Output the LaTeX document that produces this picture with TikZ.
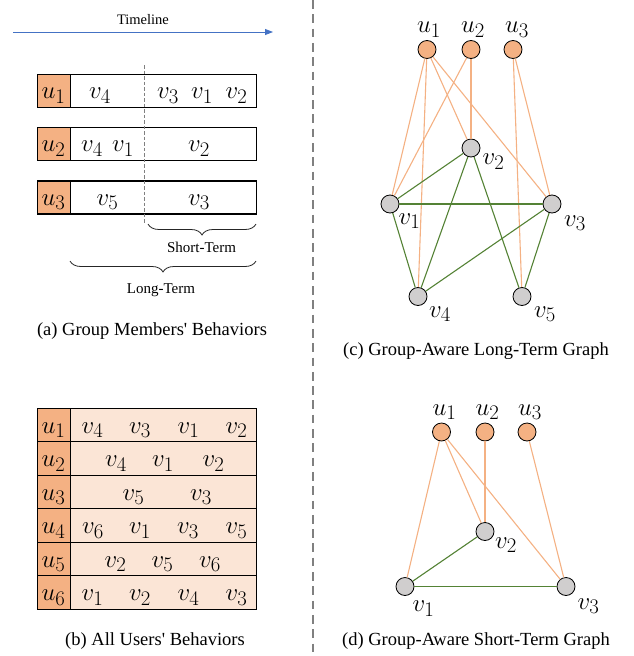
\documentclass[tikz,border=0pt]{standalone}
\usepackage{fontspec}
\setmainfont{Liberation Serif}[Ligatures=TeXOff]
\usetikzlibrary{arrows.meta,decorations.pathreplacing}
\definecolor{uorange}{HTML}{F4B183}
\definecolor{tabfill}{HTML}{FBE5D6}
\definecolor{eorange}{HTML}{F4B183}
\definecolor{egreen}{HTML}{548235}
\definecolor{vgray}{HTML}{D0CECE}
\definecolor{tlblue}{HTML}{4472C4}
\definecolor{sepgray}{HTML}{808080}
\begin{document}
\begin{tikzpicture}[x=1pt,y=-1pt,
  mlbl/.style={font=\fontsize{24.88}{28}\selectfont, inner sep=0pt, anchor=base},
  capt/.style={font=\fontsize{18.5}{22}\selectfont, inner sep=0pt, anchor=base},
  smalltxt/.style={font=\fontsize{15}{18}\selectfont, inner sep=0pt, anchor=base},
  rowbox/.style={draw=black, line width=1.2pt, minimum height=33pt, minimum width=219pt, inner sep=0pt, anchor=west},
  tabrow/.style={rowbox, fill=tabfill, minimum height=33.5pt},
  ucell/.style={draw=black, line width=1.2pt, fill=uorange, minimum width=33pt, minimum height=33pt, inner sep=0pt, anchor=west},
  tucell/.style={ucell, minimum height=33.5pt},
  unode/.style={circle, draw=black, line width=0.8pt, fill=uorange, minimum size=18pt, inner sep=0pt},
  vnode/.style={circle, draw=black, line width=0.8pt, fill=vgray, minimum size=18pt, inner sep=0pt},
  uedge/.style={draw=eorange, line width=1.1pt},
  vedge/.style={draw=egreen, line width=1.1pt},
  bracestyle/.style={draw=black!85, line width=0.8pt, decorate, decoration={brace, amplitude=11pt}}
]
\useasboundingbox (0,0) rectangle (633,656);

% ---------- separator ----------
\coordinate (s0) at (313,0);
\coordinate (s1) at (313,656);
\draw[sepgray, line width=1.8pt, dash pattern=on 8.7pt off 5.6pt] (s0) -- (s1);

% ---------- (a) ----------
\node[font=\fontsize{14.5}{17}\selectfont, inner sep=0pt, anchor=base] (tl) at (143,24) {Timeline};
\coordinate (t0) at (13,32);
\coordinate (t1) at (273,32);
\draw[tlblue, line width=0.9pt, -{Triangle[length=8pt,width=6pt]}] (t0) -- (t1);

\node[rowbox] (ar1) at (37,91) {};
\node[ucell] (ac1) at (37,91) {};
\node[rowbox] (ar2) at (37,144) {};
\node[ucell] (ac2) at (37,144) {};
\node[rowbox] (ar3) at (37,197.5) {};
\node[ucell] (ac3) at (37,197.5) {};

\coordinate (d0) at (144,65);
\coordinate (d1) at (144,223);
\draw[gray, line width=0.6pt, dash pattern=on 3.5pt off 2pt] (d0) -- (d1);

\node[mlbl] (au1) at (53.5,98.5) {$u_1$};
\node[mlbl] (a1a) at (100,98.5) {$v_4$};
\node[mlbl] (a1b) at (168,98.5) {$v_3$};
\node[mlbl] (a1c) at (202,98.5) {$v_1$};
\node[mlbl] (a1d) at (236.5,98.5) {$v_2$};

\node[mlbl] (au2) at (53.5,151.5) {$u_2$};
\node[mlbl] (a2a) at (92,151.5) {$v_4$};
\node[mlbl] (a2b) at (123,151.5) {$v_1$};
\node[mlbl] (a2c) at (199,151.5) {$v_2$};

\node[mlbl] (au3) at (53.5,205) {$u_3$};
\node[mlbl] (a3a) at (107.5,205) {$v_5$};
\node[mlbl] (a3b) at (199,205) {$v_3$};

\coordinate (sb0) at (148,224);
\coordinate (sb1) at (256,224);
\draw[bracestyle] (sb1) -- (sb0);
\node[smalltxt] (st) at (201.5,252.5) {Short-Term};
\coordinate (lb0) at (70,261);
\coordinate (lb1) at (256,261);
\draw[bracestyle] (lb1) -- (lb0);
\node[smalltxt] (lt) at (161,293) {Long-Term};

\node[capt] (capa) at (152,335) {(a) Group Members' Behaviors};

% ---------- (b) ----------
\node[tabrow] (br1) at (37,425) {};
\node[tucell] (bc1) at (37,425) {};
\node[tabrow] (br2) at (37,458.5) {};
\node[tucell] (bc2) at (37,458.5) {};
\node[tabrow] (br3) at (37,492) {};
\node[tucell] (bc3) at (37,492) {};
\node[tabrow] (br4) at (37,525.5) {};
\node[tucell] (bc4) at (37,525.5) {};
\node[tabrow] (br5) at (37,559) {};
\node[tucell] (bc5) at (37,559) {};
\node[tabrow] (br6) at (37,592.5) {};
\node[tucell] (bc6) at (37,592.5) {};

\node[mlbl] (bu1) at (53.5,433) {$u_1$};
\node[mlbl] at (92.5,433) {$v_4$};
\node[mlbl] at (140,433) {$v_3$};
\node[mlbl] at (188.5,433) {$v_1$};
\node[mlbl] at (236.5,433) {$v_2$};

\node[mlbl] (bu2) at (53.5,466.5) {$u_2$};
\node[mlbl] at (116,466.5) {$v_4$};
\node[mlbl] at (163,466.5) {$v_1$};
\node[mlbl] at (213.5,466.5) {$v_2$};

\node[mlbl] (bu3) at (53.5,500) {$u_3$};
\node[mlbl] at (133.5,500) {$v_5$};
\node[mlbl] at (201,500) {$v_3$};

\node[mlbl] (bu4) at (53.5,533.5) {$u_4$};
\node[mlbl] at (93,533.5) {$v_6$};
\node[mlbl] at (140,533.5) {$v_1$};
\node[mlbl] at (188,533.5) {$v_3$};
\node[mlbl] at (236.5,533.5) {$v_5$};

\node[mlbl] (bu5) at (53.5,567) {$u_5$};
\node[mlbl] at (115.5,567) {$v_2$};
\node[mlbl] at (162.5,567) {$v_5$};
\node[mlbl] at (210,567) {$v_6$};

\node[mlbl] (bu6) at (53.5,600.5) {$u_6$};
\node[mlbl] at (92.5,600.5) {$v_1$};
\node[mlbl] at (140,600.5) {$v_2$};
\node[mlbl] at (188.5,600.5) {$v_4$};
\node[mlbl] at (236.5,600.5) {$v_3$};

\node[capt] (capb) at (155,645) {(b) All Users' Behaviors};

% ---------- (c) ----------
\node[unode] (cu1) at (427,49.5) {};
\node[unode] (cu2) at (471,49.5) {};
\node[unode] (cu3) at (513,49.5) {};
\node[vnode] (cv2) at (471,148) {};
\node[vnode] (cv1) at (390,204) {};
\node[vnode] (cv3) at (552,204) {};
\node[vnode] (cv4) at (418,296.5) {};
\node[vnode] (cv5) at (522,296.5) {};

\draw[uedge] (cu1) -- (cv1);
\draw[uedge] (cu1) -- (cv4);
\draw[uedge] (cu1) -- (cv2);
\draw[uedge] (cu1) -- (cv3);
\draw[uedge] (cu2) -- (cv1);
\draw[uedge] (cu2) -- (cv2);
\draw[uedge] (cu3) -- (cv5);
\draw[uedge] (cu3) -- (cv3);

\draw[vedge] (cv2) -- (cv1);
\draw[vedge] (cv2) -- (cv4);
\draw[vedge] (cv2) -- (cv5);
\draw[vedge] (cv1) -- (cv3);
\draw[vedge] (cv1) -- (cv4);
\draw[vedge] (cv3) -- (cv4);
\draw[vedge] (cv3) -- (cv5);

\node[mlbl] (cl1) at (429,32.5) {$u_1$};
\node[mlbl] (cl2) at (473,32.5) {$u_2$};
\node[mlbl] (cl3) at (517,32.5) {$u_3$};
\node[mlbl] (clv2) at (493.5,164.5) {$v_2$};
\node[mlbl] (clv1) at (409.5,224) {$v_1$};
\node[mlbl] (clv3) at (575,226) {$v_3$};
\node[mlbl] (clv4) at (440,317) {$v_4$};
\node[mlbl] (clv5) at (545,317) {$v_5$};

\node[capt] (capc) at (476,355) {(c) Group-Aware Long-Term Graph};

% ---------- (d) ----------
\node[unode] (du1) at (441.5,432) {};
\node[unode] (du2) at (485,432) {};
\node[unode] (du3) at (527,432) {};
\node[vnode] (dv2) at (485,531.5) {};
\node[vnode] (dv1) at (405,586.5) {};
\node[vnode] (dv3) at (566,586.5) {};

\draw[uedge] (du1) -- (dv1);
\draw[uedge] (du1) -- (dv2);
\draw[uedge] (du1) -- (dv3);
\draw[uedge] (du2) -- (dv2);
\draw[uedge] (du3) -- (dv3);
\draw[vedge] (dv1) -- (dv2);
\draw[vedge] (dv1) -- (dv3);

\node[mlbl] (dl1) at (444.5,415) {$u_1$};
\node[mlbl] (dl2) at (487.5,415) {$u_2$};
\node[mlbl] (dl3) at (530,415) {$u_3$};
\node[mlbl] (dlv2) at (506,548) {$v_2$};
\node[mlbl] (dlv1) at (423.5,611.5) {$v_1$};
\node[mlbl] (dlv3) at (588.5,609) {$v_3$};

\node[capt] (capd) at (476,645) {(d) Group-Aware Short-Term Graph};
\end{tikzpicture}
\end{document}
